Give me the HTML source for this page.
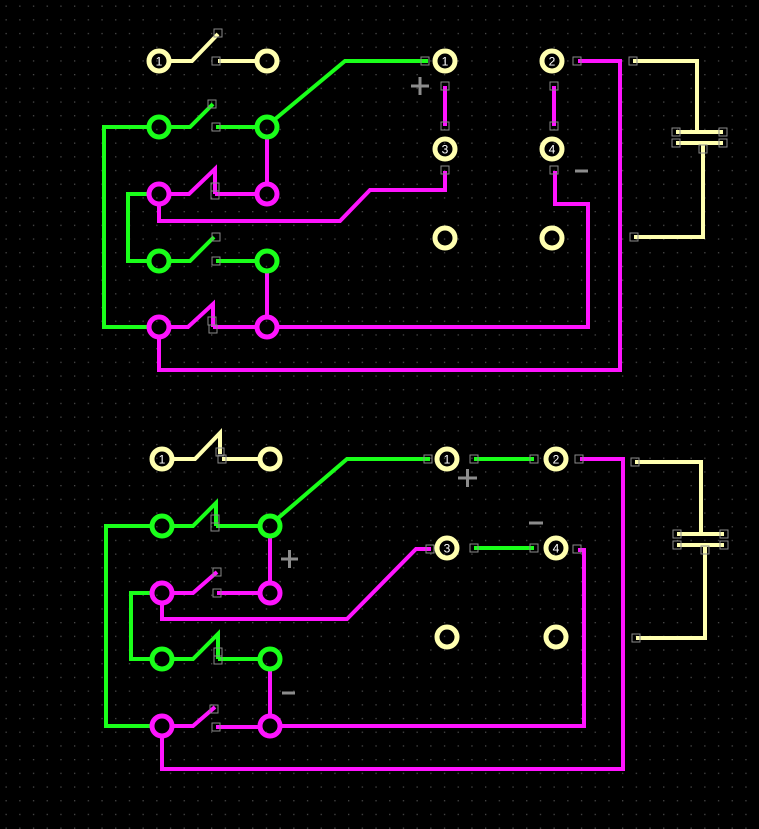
<!DOCTYPE html>
<html><head><meta charset="utf-8"><style>
html,body{margin:0;padding:0;background:#000;}
svg{display:block;}
text{font-family:"Liberation Sans",sans-serif;}
</style></head><body>
<svg width="759" height="829" viewBox="0 0 759 829" xmlns="http://www.w3.org/2000/svg">
<defs>
<pattern id="g" x="5" y="5" width="13.7" height="13.7" patternUnits="userSpaceOnUse">
<rect x="0.5" y="0.5" width="1.3" height="1.3" fill="#4a4a4a"/>
</pattern>
</defs>
<rect width="759" height="829" fill="#000"/>
<rect width="759" height="829" fill="url(#g)"/>

<g fill="none" stroke-width="4" stroke-linejoin="miter" stroke-linecap="butt">
<!-- ===== TOP ===== -->
<g stroke="#ffffb0">
<polyline points="169,61 192,61 218,34"/>
<line x1="218" y1="61" x2="257" y2="61"/>
<polyline points="633,61 697,61 697,132"/>
<line x1="676" y1="132" x2="723" y2="132"/>
<line x1="676" y1="143" x2="723" y2="143"/>
<polyline points="703,145 703,237 634,237"/>
</g>
<g stroke="#1aff1a">
<polyline points="169,127 190,127 213,104"/>
<line x1="216" y1="127" x2="257" y2="127"/>
<polyline points="149,127 104,127 104,327 149,327"/>
<polyline points="274,120 345,61 428,61"/>
<polyline points="149,194 128,194 128,261 149,261"/>
<polyline points="169,261 190,261 214,237"/>
<line x1="216" y1="261" x2="257" y2="261"/>
</g>
<g stroke="#ff14ff">
<line x1="267" y1="137" x2="267" y2="184"/>
<polyline points="169,194 189,194 215,169 215,194"/>
<line x1="215" y1="194" x2="257" y2="194"/>
<polyline points="159,204 159,221 340,221 370,190 445,190 445,171"/>
<line x1="267" y1="271" x2="267" y2="317"/>
<polyline points="169,327 188,327 213,304 213,327"/>
<line x1="213" y1="327" x2="257" y2="327"/>
<polyline points="277,327 588,327 588,204 555,204 555,171"/>
<polyline points="159,337 159,370 620,370 620,61 578,61"/>
<line x1="445" y1="86" x2="445" y2="126"/>
<line x1="554" y1="86" x2="554" y2="126"/>
</g>

<!-- ===== BOTTOM ===== -->
<g stroke="#ffffb0">
<polyline points="172,459 195,459 220,433 220,454"/>
<line x1="222" y1="459" x2="260" y2="459"/>
<polyline points="635,462 701,462 701,534"/>
<line x1="677" y1="534" x2="724" y2="534"/>
<line x1="677" y1="545" x2="724" y2="545"/>
<polyline points="705,547 705,638 636,638"/>
</g>
<g stroke="#1aff1a">
<polyline points="172,526 193,526 216,503 216,526"/>
<line x1="216" y1="526" x2="260" y2="526"/>
<polyline points="152,526 106,526 106,726 152,726"/>
<polyline points="277,519 347,459 430,459"/>
<polyline points="152,593 131,593 131,659 152,659"/>
<polyline points="172,659 193,659 218,634 218,659"/>
<line x1="218" y1="659" x2="260" y2="659"/>
<line x1="474" y1="459" x2="534" y2="459"/>
<line x1="474" y1="548" x2="534" y2="548"/>
</g>
<g stroke="#ff14ff">
<line x1="270" y1="536" x2="270" y2="583"/>
<polyline points="172,593 193,593 217,572"/>
<line x1="217" y1="593" x2="260" y2="593"/>
<polyline points="162,603 162,619 347,619 416,549 431,549"/>
<line x1="270" y1="669" x2="270" y2="716"/>
<polyline points="172,726 193,726 215,707"/>
<line x1="216" y1="727" x2="260" y2="727"/>
<polyline points="280,726 584,726 584,550 578,550"/>
<polyline points="162,736 162,769 623,769 623,459 580,459"/>
</g>
</g>

<!-- pads -->
<g stroke-width="5" fill="none">
<g stroke="#ffffb0">
<circle cx="159" cy="61" r="10"/><circle cx="267" cy="61" r="10"/>
<circle cx="445" cy="61" r="10"/><circle cx="552" cy="61" r="10"/>
<circle cx="445" cy="149" r="10"/><circle cx="552" cy="149" r="10"/>
<circle cx="445" cy="238" r="10"/><circle cx="552" cy="238" r="10"/>
<circle cx="162" cy="459" r="10"/><circle cx="270" cy="459" r="10"/>
<circle cx="447" cy="459" r="10"/><circle cx="556" cy="459" r="10"/>
<circle cx="447" cy="548" r="10"/><circle cx="556" cy="548" r="10"/>
<circle cx="447" cy="637" r="10"/><circle cx="556" cy="637" r="10"/>
</g>
<g stroke="#1aff1a">
<circle cx="159" cy="127" r="10"/><circle cx="267" cy="127" r="10"/>
<circle cx="159" cy="261" r="10"/><circle cx="267" cy="261" r="10"/>
<circle cx="162" cy="526" r="10"/><circle cx="270" cy="526" r="10"/>
<circle cx="162" cy="659" r="10"/><circle cx="270" cy="659" r="10"/>
</g>
<g stroke="#ff14ff">
<circle cx="159" cy="194" r="10"/><circle cx="267" cy="194" r="10"/>
<circle cx="159" cy="327" r="10"/><circle cx="267" cy="327" r="10"/>
<circle cx="162" cy="593" r="10"/><circle cx="270" cy="593" r="10"/>
<circle cx="162" cy="726" r="10"/><circle cx="270" cy="726" r="10"/>
</g>
</g>

<!-- pad labels -->
<g fill="#fff" font-size="12" text-anchor="middle">
<text x="159" y="65.5">1</text>
<text x="445" y="65.5">1</text><text x="552" y="65.5">2</text>
<text x="445" y="153.5">3</text><text x="552" y="153.5">4</text>
<text x="162" y="463.5">1</text>
<text x="447" y="463.5">1</text><text x="556" y="463.5">2</text>
<text x="447" y="552.5">3</text><text x="556" y="552.5">4</text>
</g>

<!-- small squares -->
<g fill="none" stroke="#8a8a8a" stroke-width="1">
<rect x="214" y="29" width="8" height="8"/><rect x="212" y="57" width="8" height="8"/>
<rect x="208" y="100" width="8" height="8"/><rect x="212" y="123" width="8" height="8"/>
<rect x="211" y="183" width="8" height="8"/><rect x="211" y="191" width="8" height="8"/>
<rect x="212" y="233" width="8" height="8"/><rect x="212" y="257" width="8" height="8"/>
<rect x="208" y="317" width="8" height="8"/><rect x="209" y="325" width="8" height="8"/>
<rect x="421" y="57" width="8" height="8"/><rect x="573" y="57" width="8" height="8"/>
<rect x="441" y="82" width="8" height="8"/><rect x="441" y="122" width="8" height="8"/>
<rect x="550" y="82" width="8" height="8"/><rect x="550" y="122" width="8" height="8"/>
<rect x="441" y="166" width="8" height="8"/><rect x="550" y="166" width="8" height="8"/>
<rect x="629" y="57" width="8" height="8"/><rect x="630" y="233" width="8" height="8"/>
<rect x="672" y="128" width="8" height="8"/><rect x="719" y="128" width="8" height="8"/>
<rect x="672" y="139" width="8" height="8"/><rect x="719" y="139" width="8" height="8"/>
<rect x="699" y="145" width="8" height="8"/>

<rect x="216" y="448" width="8" height="8"/><rect x="218" y="455" width="8" height="8"/>
<rect x="211" y="515" width="8" height="8"/><rect x="211" y="523" width="8" height="8"/>
<rect x="213" y="568" width="8" height="8"/><rect x="213" y="589" width="8" height="8"/>
<rect x="214" y="648" width="8" height="8"/><rect x="214" y="656" width="8" height="8"/>
<rect x="210" y="705" width="8" height="8"/><rect x="212" y="723" width="8" height="8"/>
<rect x="424" y="455" width="8" height="8"/><rect x="470" y="455" width="8" height="8"/>
<rect x="530" y="455" width="8" height="8"/><rect x="575" y="455" width="8" height="8"/>
<rect x="426" y="545" width="8" height="8"/><rect x="470" y="544" width="8" height="8"/>
<rect x="530" y="544" width="8" height="8"/><rect x="573" y="545" width="8" height="8"/>
<rect x="631" y="458" width="8" height="8"/><rect x="632" y="634" width="8" height="8"/>
<rect x="673" y="530" width="8" height="8"/><rect x="720" y="530" width="8" height="8"/>
<rect x="673" y="541" width="8" height="8"/><rect x="720" y="541" width="8" height="8"/>
<rect x="701" y="546" width="8" height="8"/>
</g>

<!-- + / - marks -->
<g stroke="#8c8c8c" stroke-width="3">
<line x1="411" y1="86" x2="429" y2="86"/><line x1="420" y1="77" x2="420" y2="95"/>
<line x1="575" y1="171" x2="588" y2="171"/>
<line x1="281" y1="559" x2="298" y2="559"/><line x1="289.5" y1="550" x2="289.5" y2="568"/>
<line x1="282" y1="693" x2="295" y2="693"/>
<line x1="458" y1="478" x2="477" y2="478"/><line x1="467.5" y1="469" x2="467.5" y2="487"/>
<line x1="529" y1="523" x2="543" y2="523"/>
</g>
</svg>
</body></html>
